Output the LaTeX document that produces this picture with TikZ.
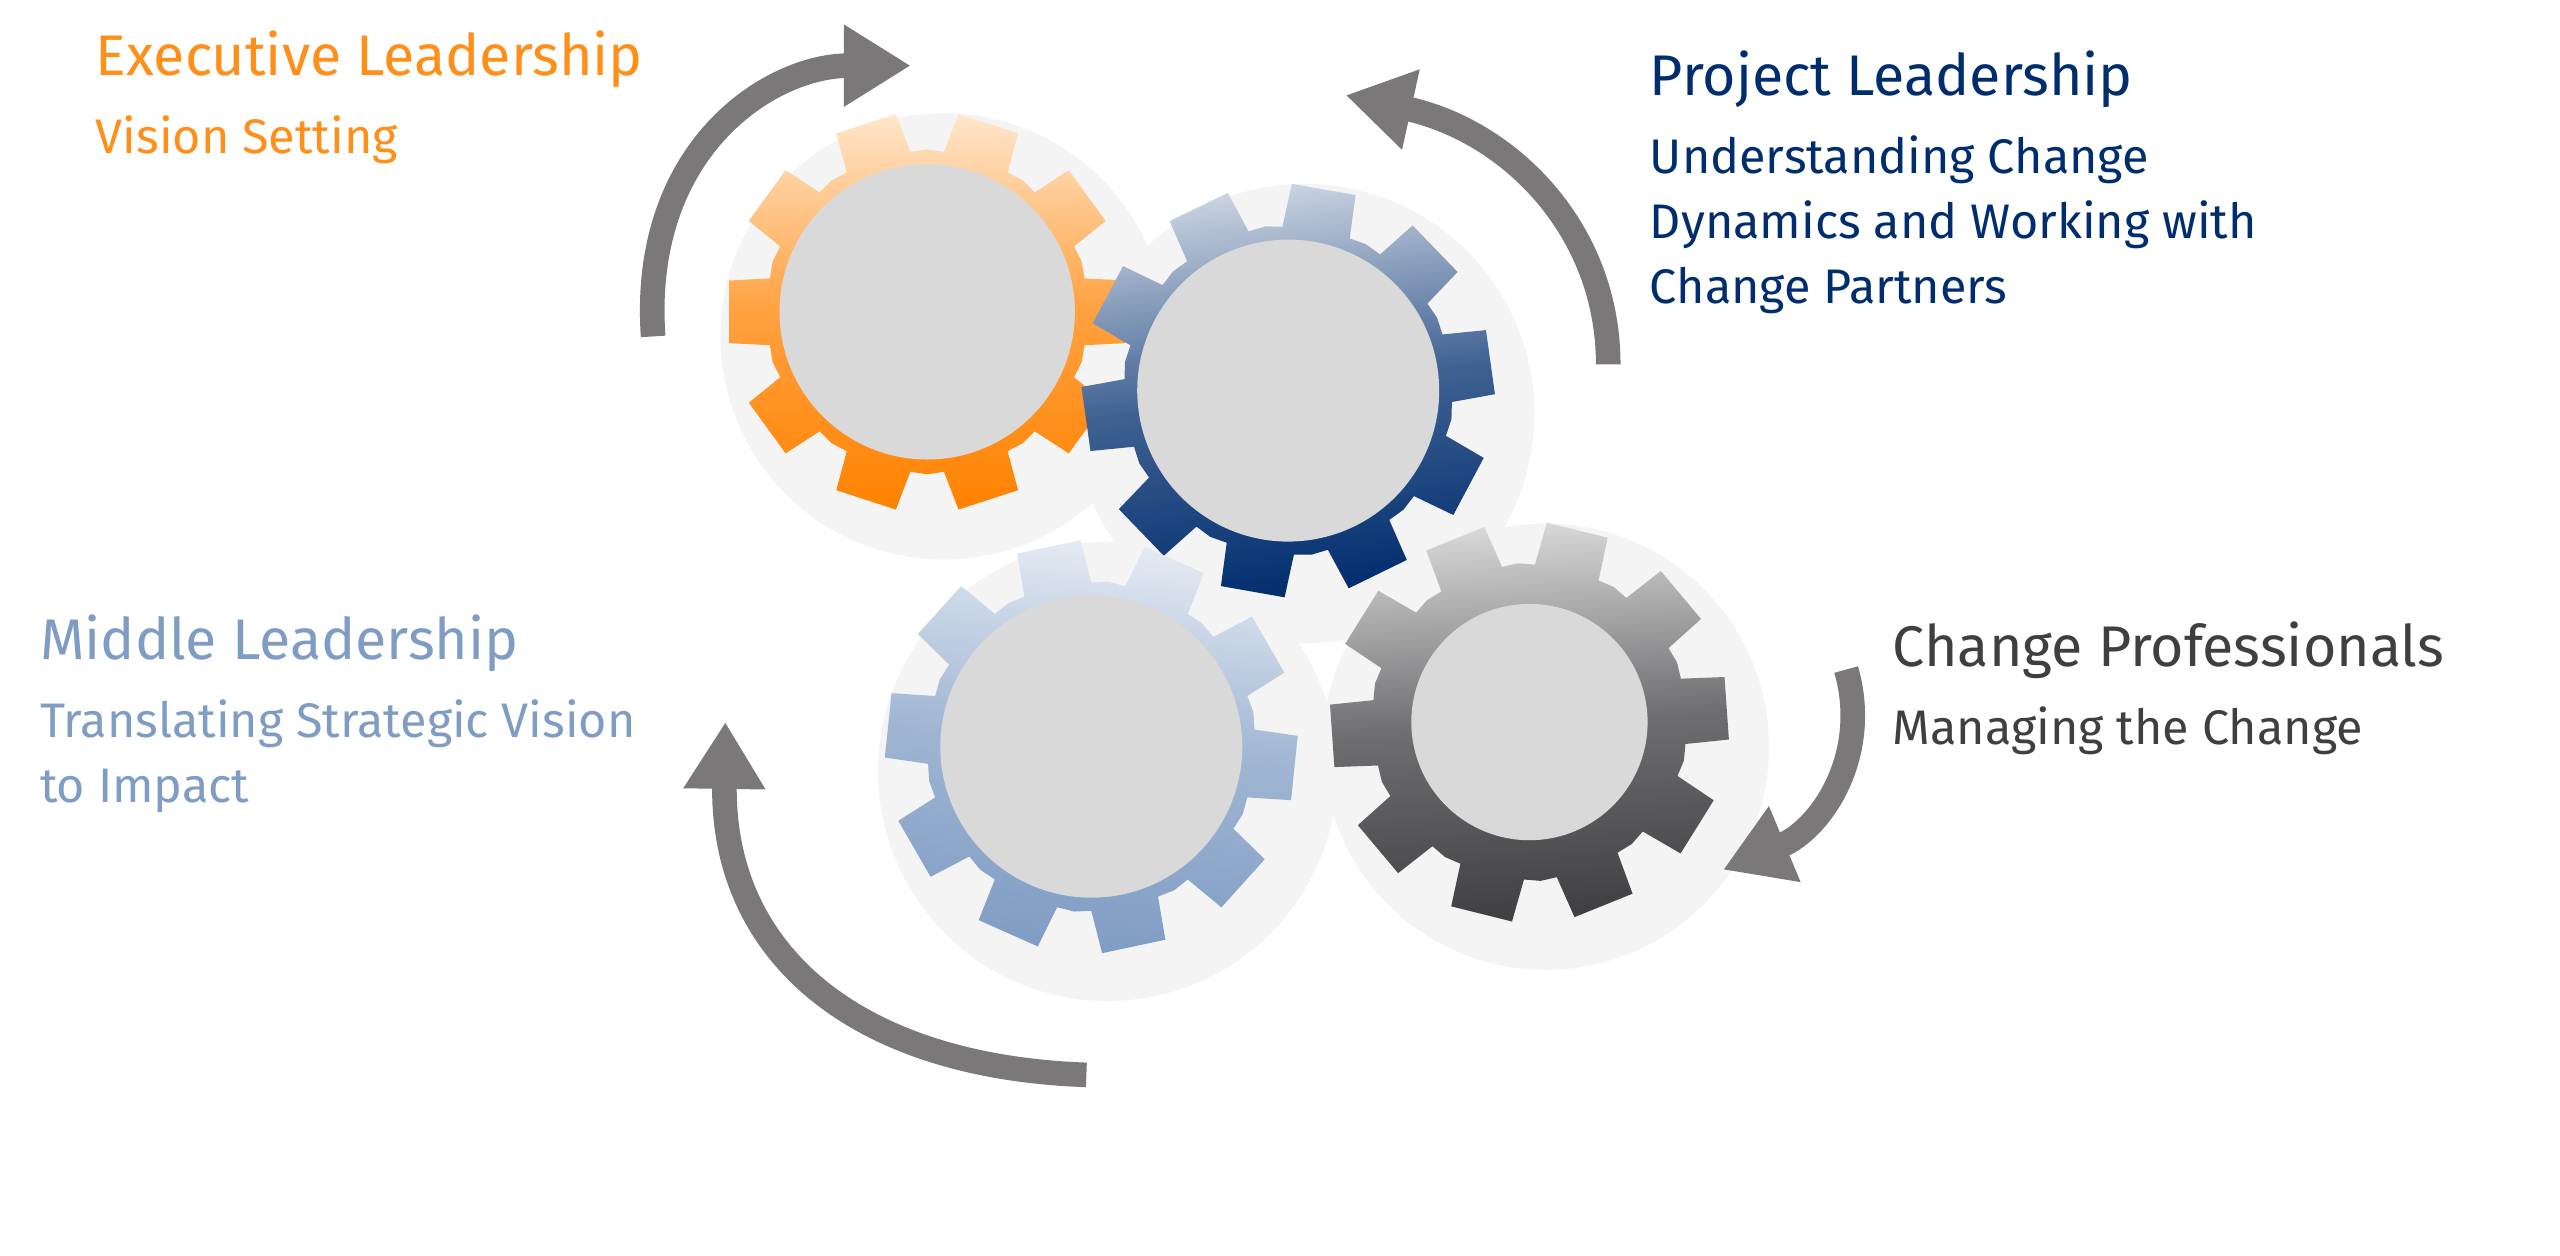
\documentclass[tikz,border=0pt]{standalone}
\usepackage{fontspec}
\setmainfont{Fira Sans}
\usetikzlibrary{arrows.meta}
\definecolor{execorange}{HTML}{FF8200}
\definecolor{projblue}{HTML}{002D6E}
\definecolor{midblue}{HTML}{7F9CC4}
\definecolor{chgray}{HTML}{3F3F42}
\definecolor{arrgray}{HTML}{7A7878}
\definecolor{hubgray}{HTML}{D9D9D9}

% gear: x, y, outer radius, root radius, hub radius, colour, turn
\newcommand\gearat[7]{
  \begin{scope}[shift={(#1,#2)}, rotate=#7]
    \shade[left color=#6!20, right color=#6, middle color=#6!75, shading angle=#7]
      (-12:#4) \foreach \a in {0,36,...,324}{
        -- (\a-12:#4) -- (\a-9:#3) -- (\a+9:#3) -- (\a+12:#4) -- (\a+18:#4+1)
      } -- cycle;
    \fill[hubgray] (0,0) circle (#5);
  \end{scope}
}

\begin{document}
\begin{tikzpicture}[
            x = 0.01641cm, y = -0.01641cm,
            > = {Triangle[length=19pt,width=22pt]},
            turn/.style = {draw=arrgray, line width=7pt, ->},
            halo/.style = {fill=gray!9},
            title/.style = {anchor=west, font=\fontsize{16.3}{20}\selectfont, inner sep=0pt},
            sub/.style = {anchor=north west, font=\fontsize{13.8}{18.5}\selectfont, inner sep=0pt, align=left}
        ]
\useasboundingbox (0,0) rectangle (1560,765);

% soft halos behind the gears
\fill[halo] (575,205) circle (136) (795,252) circle (140)
            (675,470) circle (140) (942,455) circle (136);

\gearat{565}{190}{122}{98}{90}{execorange}{0}
\gearat{785}{238}{126}{100}{92}{projblue}{8}
\gearat{665}{455}{126}{100}{92}{midblue}{-6}
\gearat{932}{440}{122}{96}{72}{chgray}{4}

% turning arrows
\coordinate (el0) at (398,205); \coordinate (el1) at (555,40);
\coordinate (pl0) at (980,222); \coordinate (pl1) at (820,58);
\coordinate (cp0) at (1125,408); \coordinate (cp1) at (1050,530);
\coordinate (ml0) at (662,655); \coordinate (ml1) at (442,440);

\draw[turn] (el0) .. controls (390,90) and (470,40) .. (el1);
\draw[turn] (pl0) .. controls (980,140) and (920,80) .. (pl1);
\draw[turn] (cp0) .. controls (1140,460) and (1110,505) .. (cp1);
\draw[turn] (ml0) .. controls (520,650) and (440,580) .. (ml1);

% labels
\node[title, text=execorange!90] (exec) at (58,36) {Executive Leadership};
\node[sub, text=execorange!90] (execsub) at (58,70) {Vision Setting};

\node[title, text=projblue] (proj) at (1005,48) {Project Leadership};
\node[sub, text=projblue] (projsub) at (1005,82) {Understanding Change\\Dynamics and Working with\\Change Partners};

\node[title, text=midblue] (mid) at (24,392) {Middle Leadership};
\node[sub, text=midblue] (midsub) at (24,426) {Translating Strategic Vision\\to Impact};

\node[title, text=chgray] (chg) at (1153,396) {Change Professionals};
\node[sub, text=chgray] (chgsub) at (1153,430) {Managing the Change};
\end{tikzpicture}
\end{document}
